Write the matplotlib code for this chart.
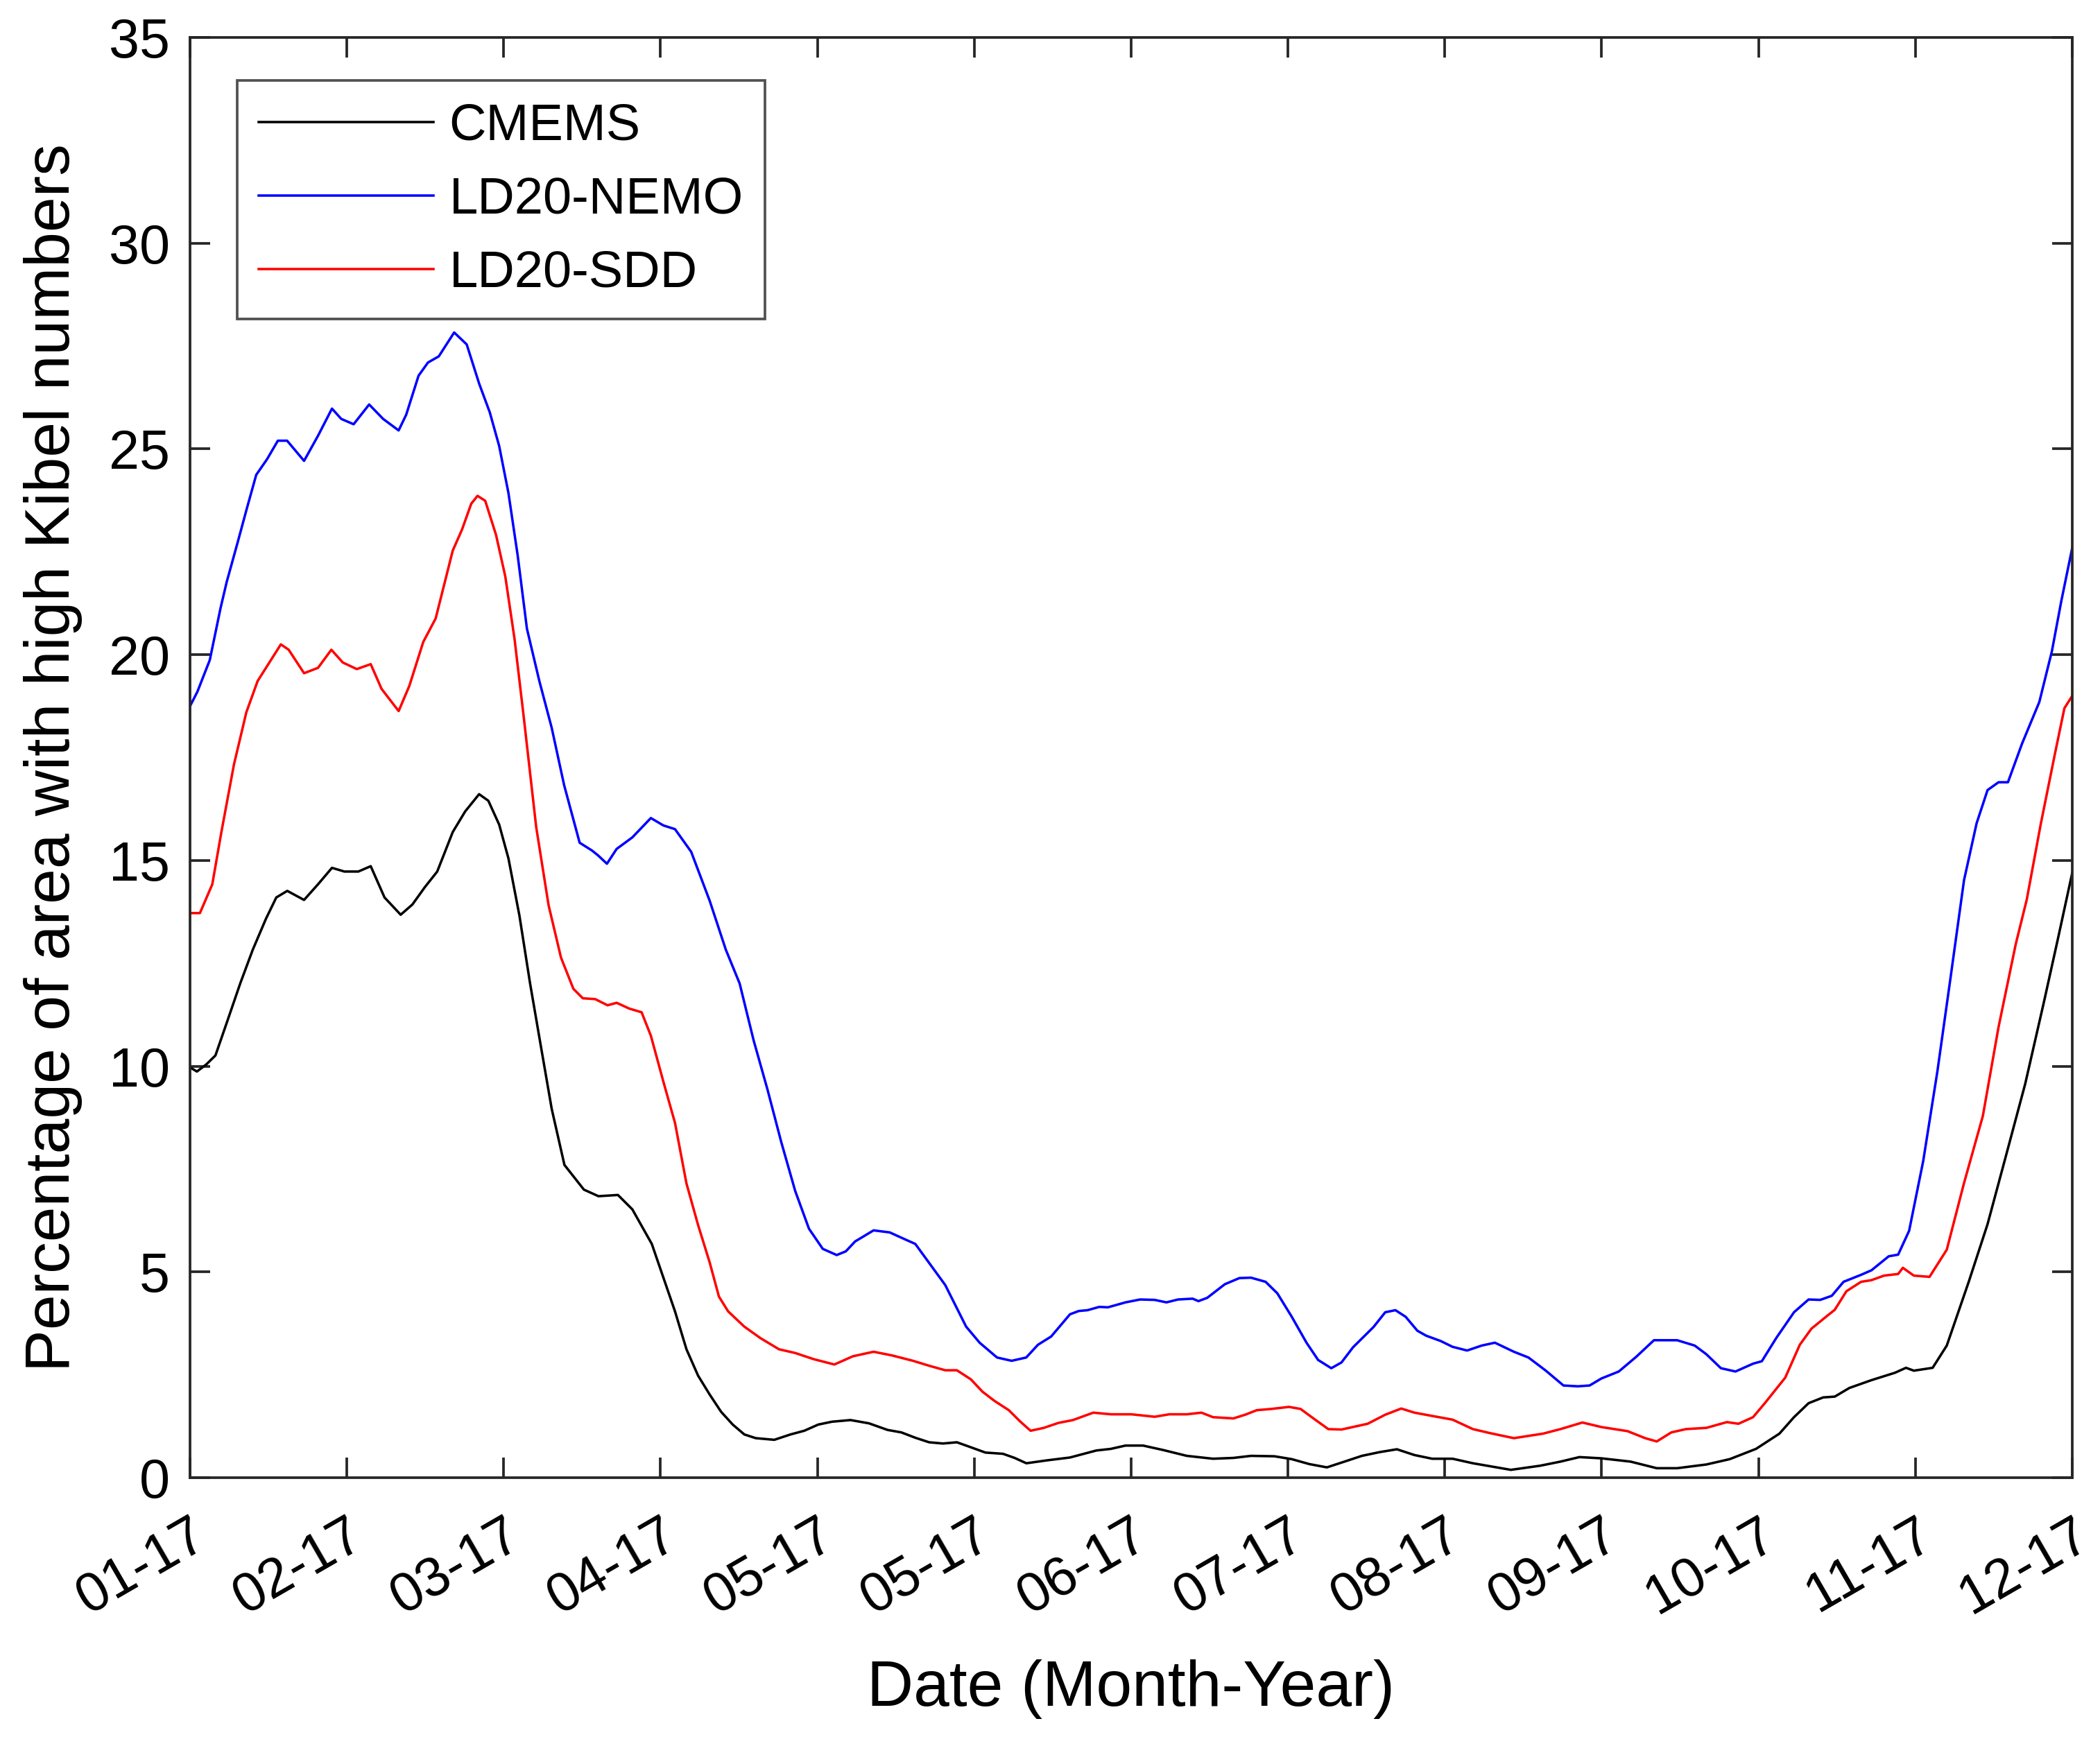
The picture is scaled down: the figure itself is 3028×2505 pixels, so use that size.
import matplotlib
matplotlib.use("Agg")
import matplotlib.pyplot as plt

plt.rcParams['font.family'] = ['Liberation Sans', 'DejaVu Sans']

# ---------------- data (x in months since 01-17) ----------------
tick_labels = ["01-17", "02-17", "03-17", "04-17", "05-17", "05-17", "06-17",
               "07-17", "08-17", "09-17", "10-17", "11-17", "12-17"]
tick_pos = list(range(13))

series_names = ["CMEMS", "LD20-NEMO", "LD20-SDD"]
series_colors = ["#000000", "#0000FF", "#FF0000"]

nemo_t = [0.0, 0.047, 0.126, 0.195, 0.234, 0.303, 0.362, 0.422, 0.491, 0.560, 0.619, 0.727, 0.816, 0.905,
          0.964, 1.043, 1.142, 1.231, 1.330, 1.378, 1.457, 1.517, 1.586, 1.684, 1.764, 1.843, 1.911, 1.971,
          2.030, 2.089, 2.148, 2.227, 2.306, 2.385, 2.484, 2.563, 2.602, 2.658, 2.720, 2.820, 2.938, 3.018,
          3.092, 3.195, 3.313, 3.416, 3.504, 3.593, 3.681, 3.769, 3.858, 3.946, 4.034, 4.123, 4.181, 4.240,
          4.358, 4.461, 4.565, 4.624, 4.712, 4.815, 4.948, 5.034, 5.145, 5.238, 5.331, 5.406, 5.490, 5.610,
          5.666, 5.722, 5.797, 5.852, 5.964, 6.057, 6.150, 6.225, 6.299, 6.392, 6.429, 6.485, 6.597, 6.690,
          6.764, 6.857, 6.932, 7.024, 7.118, 7.192, 7.276, 7.341, 7.415, 7.545, 7.620, 7.685, 7.750, 7.825,
          7.881, 7.974, 8.049, 8.142, 8.235, 8.319, 8.440, 8.533, 8.644, 8.756, 8.849, 8.923, 8.998, 9.109,
          9.221, 9.333, 9.481, 9.593, 9.667, 9.760, 9.853, 9.965, 10.021, 10.114, 10.226, 10.319, 10.393,
          10.467, 10.542, 10.654, 10.72, 10.83, 10.89, 10.96, 11.05, 11.14, 11.22, 11.31, 11.39, 11.46,
          11.53, 11.59, 11.68, 11.79, 11.87, 11.93, 12.0]
nemo_v = [18.75, 19.1, 19.87, 21.14, 21.77, 22.72, 23.55, 24.37, 24.75, 25.2, 25.2, 24.71, 25.32, 25.98,
          25.73, 25.6, 26.08, 25.73, 25.45, 25.83, 26.78, 27.1, 27.25, 27.83, 27.54, 26.59, 25.89, 25.07,
          23.93, 22.41, 20.63, 19.36, 18.22, 16.83, 15.43, 15.24, 15.12, 14.92, 15.28, 15.56, 16.03, 15.85,
          15.76, 15.21, 14.02, 12.83, 12.01, 10.63, 9.44, 8.16, 6.97, 6.05, 5.56, 5.41, 5.5, 5.74,
          6.01, 5.96, 5.78, 5.68, 5.22, 4.68, 3.67, 3.28, 2.92, 2.84, 2.92, 3.23, 3.43, 3.97,
          4.05, 4.07, 4.15, 4.14, 4.26, 4.33, 4.32, 4.26, 4.33, 4.35, 4.29, 4.37, 4.7, 4.85,
          4.86, 4.76, 4.48, 3.91, 3.28, 2.86, 2.66, 2.8, 3.17, 3.66, 4.02, 4.07, 3.91, 3.57,
          3.45, 3.32, 3.18, 3.09, 3.21, 3.28, 3.06, 2.92, 2.6, 2.24, 2.22, 2.24, 2.41, 2.58,
          2.94, 3.34, 3.34, 3.21, 3.0, 2.66, 2.58, 2.77, 2.83, 3.4, 4.02, 4.33, 4.32,
          4.42, 4.76, 4.93, 5.04, 5.38, 5.42, 6.0, 7.7, 9.87, 12.04, 14.52, 15.9, 16.71,
          16.9, 16.9, 17.84, 18.85, 20.08, 21.3, 22.6]

sdd_t = [0.0, 0.063, 0.142, 0.2, 0.28, 0.359, 0.431, 0.516, 0.579, 0.629, 0.727, 0.816, 0.901, 0.974,
         1.063, 1.152, 1.221, 1.33, 1.398, 1.487, 1.566, 1.675, 1.734, 1.793, 1.833, 1.882, 1.951, 2.01,
         2.069, 2.128, 2.207, 2.286, 2.365, 2.444, 2.504, 2.583, 2.662, 2.72, 2.8, 2.879, 2.938, 3.018,
         3.092, 3.165, 3.239, 3.313, 3.372, 3.431, 3.534, 3.637, 3.755, 3.858, 3.976, 4.108, 4.226, 4.358,
         4.476, 4.609, 4.712, 4.815, 4.889, 4.978, 5.052, 5.127, 5.22, 5.294, 5.359, 5.443, 5.536, 5.629,
         5.759, 5.871, 6.001, 6.15, 6.243, 6.355, 6.448, 6.522, 6.652, 6.727, 6.801, 6.894, 7.006, 7.08,
         7.173, 7.257, 7.341, 7.508, 7.62, 7.722, 7.806, 7.919, 8.049, 8.179, 8.291, 8.44, 8.626, 8.737,
         8.877, 8.998, 9.165, 9.277, 9.351, 9.444, 9.537, 9.667, 9.798, 9.872, 9.965, 10.04, 10.17, 10.263,
         10.337, 10.43, 10.486, 10.56, 10.654, 10.72, 10.80, 10.89, 10.92, 10.99, 11.09, 11.20, 11.31,
         11.43, 11.53, 11.64, 11.71, 11.80, 11.89, 11.95, 12.0]
sdd_v = [13.72, 13.72, 14.42, 15.69, 17.33, 18.6, 19.36, 19.87, 20.25, 20.12, 19.55, 19.68, 20.12, 19.81,
         19.65, 19.77, 19.17, 18.63, 19.24, 20.31, 20.88, 22.53, 23.04, 23.67, 23.86, 23.74, 22.91, 21.9,
         20.38, 18.47, 15.81, 13.91, 12.64, 11.88, 11.65, 11.63, 11.48, 11.54, 11.4, 11.31, 10.74, 9.62,
         8.62, 7.15, 6.14, 5.23, 4.4, 4.04, 3.67, 3.39, 3.12, 3.03, 2.88, 2.75, 2.95, 3.06,
         2.97, 2.84, 2.72, 2.61, 2.61, 2.39, 2.09, 1.87, 1.64, 1.36, 1.14, 1.21, 1.33, 1.4,
         1.58, 1.54, 1.54, 1.48, 1.54, 1.54, 1.58, 1.47, 1.44, 1.53, 1.64, 1.67, 1.72, 1.67,
         1.41, 1.18, 1.17, 1.31, 1.53, 1.68, 1.58, 1.5, 1.41, 1.18, 1.08, 0.96, 1.07, 1.18,
         1.34, 1.23, 1.13, 0.96, 0.88, 1.1, 1.18, 1.21, 1.35, 1.31, 1.47, 1.81, 2.43, 3.23,
         3.62, 3.91, 4.08, 4.53, 4.76, 4.8, 4.91, 4.95, 5.1, 4.91, 4.88, 5.54, 7.16,
         8.79, 10.95, 12.97, 14.05, 15.9, 17.6, 18.7, 19.0]

cmems_t = [0.0, 0.044, 0.103, 0.162, 0.24, 0.32, 0.4, 0.485, 0.55, 0.62, 0.727, 0.816, 0.905, 0.984,
           1.073, 1.152, 1.24, 1.343, 1.418, 1.497, 1.576, 1.675, 1.754, 1.843, 1.902, 1.971, 2.03, 2.1,
           2.168, 2.237, 2.306, 2.387, 2.511, 2.604, 2.728, 2.82, 2.944, 3.018, 3.092, 3.165, 3.239, 3.313,
           3.386, 3.46, 3.534, 3.607, 3.725, 3.828, 3.916, 4.005, 4.093, 4.211, 4.329, 4.447, 4.535, 4.624,
           4.712, 4.8, 4.889, 4.977, 5.071, 5.183, 5.257, 5.332, 5.462, 5.61, 5.778, 5.871, 5.964, 6.076,
           6.206, 6.355, 6.522, 6.652, 6.764, 6.913, 7.024, 7.136, 7.248, 7.36, 7.471, 7.583, 7.694, 7.806,
           7.919, 8.049, 8.179, 8.421, 8.607, 8.737, 8.858, 8.998, 9.184, 9.351, 9.481, 9.667, 9.816, 9.984,
           10.133, 10.226, 10.319, 10.412, 10.486, 10.579, 10.72, 10.87, 10.94, 10.99, 11.11, 11.20, 11.34,
           11.46, 11.58, 11.70, 11.82, 11.91, 12.0]
cmems_v = [9.97, 9.87, 10.04, 10.26, 11.12, 12.01, 12.83, 13.59, 14.1, 14.26, 14.04, 14.42, 14.82, 14.73,
           14.73, 14.86, 14.1, 13.68, 13.93, 14.35, 14.73, 15.69, 16.19, 16.61, 16.45, 15.87, 15.05, 13.66,
           12.01, 10.48, 8.96, 7.6, 7.0, 6.84, 6.87, 6.52, 5.68, 4.86, 4.04, 3.12, 2.48, 2.02,
           1.6, 1.29, 1.05, 0.96, 0.92, 1.05, 1.14, 1.29, 1.36, 1.4, 1.32, 1.16, 1.1, 0.97,
           0.86, 0.83, 0.86, 0.74, 0.61, 0.58, 0.48, 0.35, 0.42, 0.49, 0.66, 0.7, 0.78, 0.78,
           0.67, 0.53, 0.46, 0.48, 0.53, 0.52, 0.45, 0.33, 0.25, 0.39, 0.53, 0.62, 0.69, 0.55,
           0.46, 0.46, 0.35, 0.19, 0.29, 0.39, 0.5, 0.47, 0.39, 0.23, 0.23, 0.32, 0.45, 0.7,
           1.07, 1.47, 1.81, 1.95, 1.97, 2.18, 2.37, 2.55, 2.67, 2.6, 2.67, 3.21, 4.76,
           6.16, 7.86, 9.57, 11.57, 13.12, 14.7]

# ---------------- figure ----------------
W, H, DPI = 3029, 2505, 300
fig = plt.figure(figsize=(W / DPI, H / DPI), dpi=DPI)
ax = fig.add_axes([274 / W, 1 - 2131 / H, (2988 - 274) / W, (2131 - 54) / H])

axcol = "#262626"
lw = 0.85
ax.plot(cmems_t, cmems_v, color=series_colors[0], lw=lw, label=series_names[0])
ax.plot(nemo_t, nemo_v, color=series_colors[1], lw=lw, label=series_names[1])
ax.plot(sdd_t, sdd_v, color=series_colors[2], lw=lw, label=series_names[2])

ax.set_xlim(0, 12)
ax.set_ylim(0, 35)
ax.set_xticks(tick_pos)
ax.set_xticklabels(tick_labels, rotation=30, ha='right', rotation_mode='anchor')
ax.set_yticks(range(0, 36, 5))

for s in ax.spines.values():
    s.set_color(axcol)
    s.set_linewidth(0.9)
ax.tick_params(direction='in', length=7, width=0.9, color=axcol, labelsize=19,
               labelcolor="#000000", top=True, right=True, pad=7)
ax.tick_params(axis='x', pad=11)

ax.set_xlabel("Date (Month-Year)", fontsize=22.3, labelpad=12)
ax.set_ylabel("Percentage of area with high Kibel numbers", fontsize=21.9, labelpad=9)

leg = ax.legend(loc='upper left', bbox_to_anchor=(0.025, 0.970), borderaxespad=0,
                fontsize=17.8, frameon=True, fancybox=False, handlelength=3.4,
                handletextpad=0.3, labelspacing=0.5, borderpad=0.42)
leg.get_frame().set_edgecolor(axcol)
leg.get_frame().set_linewidth(0.9)
for h in leg.get_lines():
    h.set_linewidth(0.85)

fig.savefig("out.png", dpi=DPI, facecolor="white")
